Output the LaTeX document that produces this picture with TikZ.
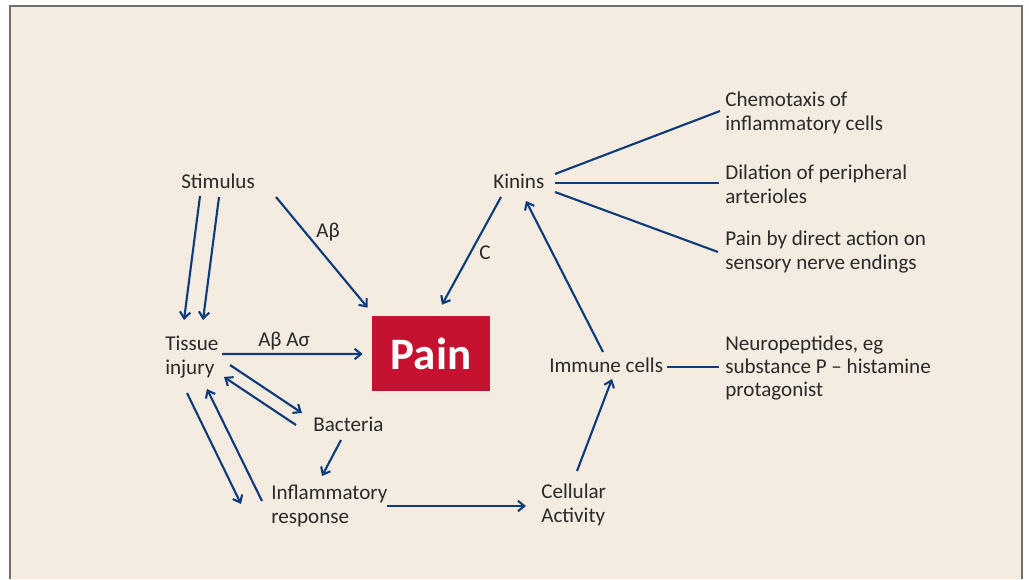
\documentclass[tikz,border=0pt]{standalone}
\usepackage{fontspec}
\setmainfont{Carlito}
\usepackage{xcolor}
\usepackage{tikz}
\usetikzlibrary{arrows.meta, calc}

\definecolor{bgbeige}{HTML}{F4ECE1}
\definecolor{framegray}{HTML}{6E6E6E}
\definecolor{flowblue}{HTML}{0E3B7A}
\definecolor{painred}{HTML}{C41230}
\definecolor{textgray}{HTML}{2A2A2A}

\begin{document}
\begin{tikzpicture}[
        x=0.025cm, y=-0.025cm,
        txt/.style={inner sep=0pt, align=left, anchor=base west, text=textgray, font=\fontsize{15}{16.6}\selectfont},
        painbox/.style={rectangle, fill=painred, text=white, inner sep=0pt, minimum width=2.95cm, minimum height=1.875cm, font=\bfseries\fontsize{32}{36}\selectfont},
        arrow/.style={-{Straight Barb[length=1.6mm, width=2.6mm]}, line width=1.5pt, draw=flowblue},
        link/.style={line width=1.5pt, draw=flowblue},
    ]
        \useasboundingbox (0,0) rectangle (1029,579);
        \fill[bgbeige] (10,6) rectangle (1022,579);
        \draw[framegray, line width=1pt] (10,579) -- (10,6) -- (1022,6) -- (1022,579);

        % Left side (base west = baseline of the last line)
        \node[txt] (stim) at (181,188) {Stimulus};
        \node[txt] (tissue) at (165,374.3) {Tissue\\injury};
        \node[txt] (bact) at (313,431) {Bacteria};
        \node[txt] (infl) at (271,523.3) {Inflammatory\\response};
        \node[painbox] (pain) at (431,353.5) {Pain};

        % Right side
        \node[txt] (kinins) at (493,188) {Kinins};
        \node[txt] (immune) at (549,372) {Immune cells};
        \node[txt] (cell) at (541,522.3) {Cellular\\Activity};
        \node[txt] (chemo) at (725,130.3) {Chemotaxis of\\inflammatory cells};
        \node[txt] (dil) at (725,203.3) {Dilation of peripheral\\arterioles};
        \node[txt] (direct) at (725,269.3) {Pain by direct action on\\sensory nerve endings};
        \node[txt] (neuro) at (725,396.7) {Neuropeptides, eg\\substance P -- histamine\\protagonist};

        % Fibre labels
        \node[txt] (fibAb) at (316,237) {Aβ};
        \node[txt] (fibAbAs) at (258,346) {Aβ Aσ};
        \node[txt] (fibC) at (479,259) {C};

        % Arrows
        \draw[arrow] ($(stim.base west)+(19,8)$) -- ($(tissue.base west)+(19,-54.3)$);
        \draw[arrow] ($(stim.base west)+(38,9)$) -- ($(tissue.base west)+(38,-54.3)$);
        \draw[arrow] ($(stim.base west)+(95,9)$) -- ($(pain.north west)+(-4,-8)$);
        \draw[arrow] ($(tissue.base west)+(57,-20.3)$) -- ($(pain.west)+(-9,0.5)$);
        \draw[arrow] ($(tissue.base west)+(65,-9.3)$) -- ($(bact.base west)+(-11,-18)$);
        \draw[arrow] ($(bact.base west)+(-17,-6)$) -- ($(tissue.base west)+(59,2.7)$);
        \draw[arrow] ($(tissue.base west)+(22,18.7)$) -- ($(infl.base west)+(-30,-19.3)$);
        \draw[arrow] ($(infl.base west)+(-9,-22.3)$) -- ($(tissue.base west)+(42,14.7)$);
        \draw[arrow] ($(bact.base west)+(28,9)$) -- ($(infl.base west)+(51,-47.3)$);
        \draw[arrow] ($(infl.base west)+(116,-17.3)$) -- ($(cell.base west)+(-15,-16.3)$);
        \draw[arrow] ($(cell.base west)+(36,-51.3)$) -- ($(immune.base west)+(63,7)$);
        \draw[arrow] ($(immune.base west)+(54,-20)$) -- ($(kinins.base west)+(33,13)$);
        \draw[arrow] ($(kinins.base west)+(8,9)$) -- ($(pain.north)+(11,-11)$);

        % Effects
        \draw[link] ($(kinins.base west)+(62,-14)$) -- ($(chemo.base west)+(-5,-19.3)$);
        \draw[link] ($(kinins.base west)+(62,-5)$) -- ($(dil.base west)+(-6,-20.3)$);
        \draw[link] ($(kinins.base west)+(62,4)$) -- ($(direct.base west)+(-7,-17.3)$);
        \draw[link] ($(immune.base west)+(118,-5)$) -- ($(neuro.base west)+(-6,-29.7)$);
    \end{tikzpicture}
\end{document}
